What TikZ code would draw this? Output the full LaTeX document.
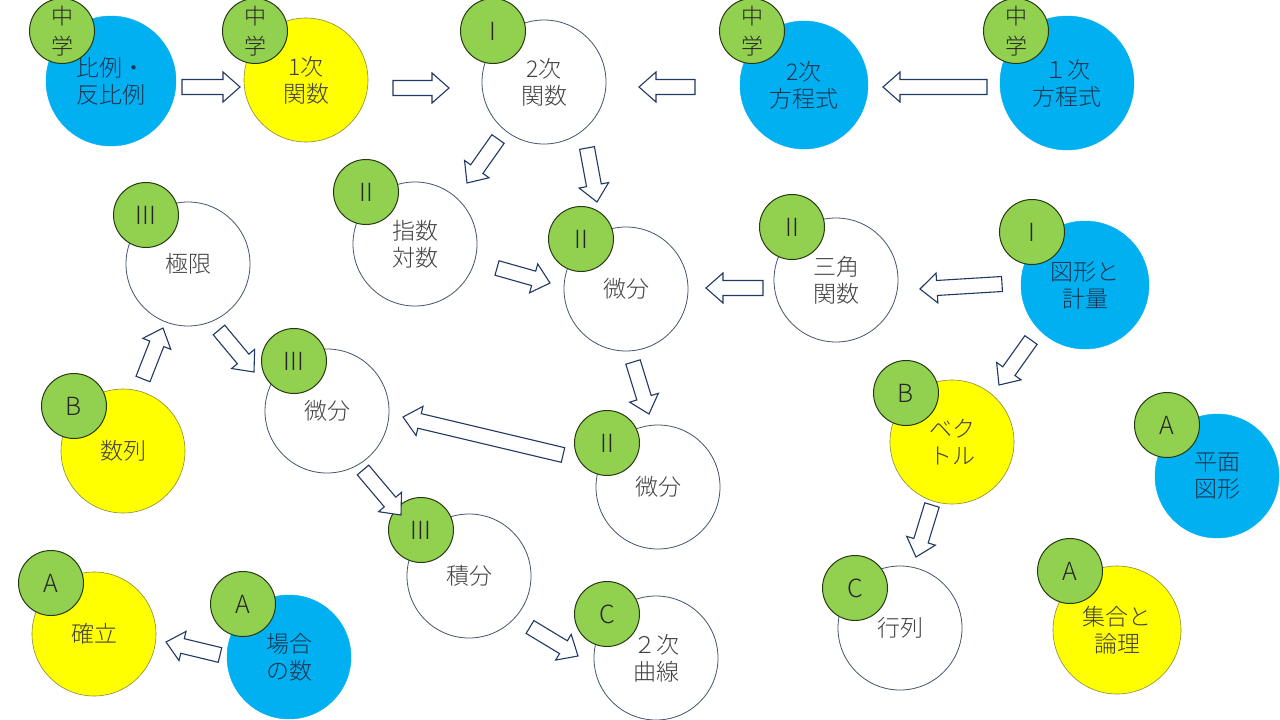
\documentclass[tikz,border=0pt]{standalone}
\usepackage{fontspec}
\setmainfont{Noto Sans CJK JP}[UprightFont=* Light]
\usetikzlibrary{calc}
\definecolor{cblue}{HTML}{00B0F0}
\definecolor{cyel}{HTML}{FFFF00}
\definecolor{cgreen}{HTML}{92D050}
\definecolor{cedge}{HTML}{44546A}
\definecolor{carrow}{HTML}{203864}
\definecolor{cgdark}{HTML}{253A12}
\definecolor{btext}{HTML}{1E3350}
\definecolor{yedge}{HTML}{8A8A40}
\tikzset{
 big/.style={circle, inner sep=0pt, minimum size=124pt, align=center, font=\fontsize{23}{27}\selectfont},
 wbig/.style={big, fill=white, draw=cedge, line width=0.8pt, text=black!75},
 bbig/.style={big, fill=cblue, draw=cblue, text=btext},
 ybig/.style={big, fill=cyel, draw=yedge, line width=0.6pt, text=black!75},
 badge/.style={circle, inner sep=0pt, minimum size=65pt, fill=cgreen, draw=cgdark, line width=1pt, align=center, font=\fontsize{22}{30}\selectfont, text=black!85},
 lbadge/.style={badge, font=\fontsize{25}{30}\selectfont},
 barrow/.style={fill=white, draw=carrow, line width=1.1pt, line join=miter},
}
\newcommand\blockarrow[2]{%
 \coordinate (bh) at ($(#2)!17pt!(#1)$);
 \draw[barrow] ($(#1)!7.5pt!90:(#2)$) -- ($(bh)!7.5pt!-90:(#1)$) -- ($(bh)!15pt!-90:(#1)$) -- (#2) -- ($(bh)!15pt!90:(#1)$) -- ($(bh)!7.5pt!90:(#1)$) -- ($(#1)!7.5pt!-90:(#2)$) -- cycle;}
\begin{document}
\begin{tikzpicture}[x=1pt,y=-1pt]
\useasboundingbox (0,0) rectangle (1280,720);
\fill[white] (0,0) rectangle (1280,720);
% big circles
\node[bbig, minimum size=130pt] (hirei) at (111,81) {比例・\\反比例};
\node[ybig] (ichiji) at (306,80) {1次\\関数};
\node[wbig] (niji) at (544,82) {2次\\関数};
\node[bbig, minimum size=128pt] (nihou) at (804,85) {2次\\方程式};
\node[bbig, minimum size=134pt] (ichihou) at (1067,83) {１次\\方程式};
\node[wbig] (shisu) at (415,244) {指数\\対数};
\node[wbig] (bibunA) at (626,289) {微分};
\node[wbig] (sankaku) at (836,280) {三角\\関数};
\node[bbig, minimum size=128pt] (zukei) at (1085,285) {図形と\\計量};
\node[wbig] (kyokugen) at (188,264) {極限};
\node[ybig] (suretsu) at (123,451) {数列};
\node[wbig] (bibunC) at (327,411) {微分};
\node[wbig] (bibunB) at (658,487) {微分};
\node[wbig] (sekibun) at (469,576) {積分};
\node[wbig] (kyokusen) at (656,658) {２次\\曲線};
\node[ybig] (vector) at (952,442) {ベク\\トル};
\node[wbig] (gyoretsu) at (900,628) {行列};
\node[bbig] (heimen) at (1217,476) {平面\\図形};
\node[ybig, minimum size=128pt] (shugo) at (1117,630) {集合と\\論理};
\node[ybig] (kakuritsu) at (94,634) {確立};
\node[bbig] (baai) at (289,657) {場合\\の数};
% badges
\node[badge] (g1) at (62,31) {中\\学};
\node[badge] (g2) at (255,31) {中\\学};
\node[lbadge] (g3) at (493,31) {I};
\node[badge] (g4) at (752,31) {中\\学};
\node[badge] (g5) at (1016,31) {中\\学};
\node[lbadge] (g6) at (366,192) {II};
\node[lbadge] (g7) at (581,239) {II};
\node[lbadge] (g8) at (792,227) {II};
\node[lbadge] (g9) at (1032,232) {I};
\node[lbadge] (g10) at (146,215) {III};
\node[lbadge] (g11) at (74,406) {B};
\node[lbadge] (g12) at (294,361) {III};
\node[lbadge] (g13) at (607,443) {II};
\node[lbadge] (g14) at (421,530) {III};
\node[lbadge] (g15) at (607,614) {C};
\node[lbadge] (g16) at (906,393) {B};
\node[lbadge] (g17) at (855,588) {C};
\node[lbadge] (g18) at (1167,425) {A};
\node[lbadge] (g19) at (1070,571) {A};
\node[lbadge] (g20) at (51,583) {A};
\node[lbadge] (g21) at (243,604) {A};
% arrow end points
\coordinate (a1s) at (182,87);  \coordinate (a1e) at (240,87);
\coordinate (a2s) at (393,88);  \coordinate (a2e) at (449,88);
\coordinate (a3s) at (695,87);  \coordinate (a3e) at (639,87);
\coordinate (a4s) at (987,87);  \coordinate (a4e) at (883,87);
\coordinate (a5s) at (498,139); \coordinate (a5e) at (467,183);
\coordinate (a6s) at (587,148); \coordinate (a6e) at (597,202);
\coordinate (a7s) at (497,268); \coordinate (a7e) at (550,283);
\coordinate (a8s) at (763,288); \coordinate (a8e) at (706,288);
\coordinate (a9s) at (1002,284); \coordinate (a9e) at (920,289);
\coordinate (a10s) at (1031,340); \coordinate (a10e) at (999,385);
\coordinate (a11s) at (143,379); \coordinate (a11e) at (163,328);
\coordinate (a12s) at (219,330); \coordinate (a12e) at (254,372);
\coordinate (a13s) at (633,362); \coordinate (a13e) at (649,414);
\coordinate (a14s) at (563,455); \coordinate (a14e) at (403,417);
\coordinate (a15s) at (363,470); \coordinate (a15e) at (401,515);
\coordinate (a16s) at (530,627); \coordinate (a16e) at (578,656);
\coordinate (a17s) at (932,505); \coordinate (a17e) at (916,557);
\coordinate (a18s) at (220,655); \coordinate (a18e) at (166,642);
\blockarrow{a1s}{a1e}
\blockarrow{a2s}{a2e}
\blockarrow{a3s}{a3e}
\blockarrow{a4s}{a4e}
\blockarrow{a5s}{a5e}
\blockarrow{a6s}{a6e}
\blockarrow{a7s}{a7e}
\blockarrow{a8s}{a8e}
\blockarrow{a9s}{a9e}
\blockarrow{a10s}{a10e}
\blockarrow{a11s}{a11e}
\blockarrow{a12s}{a12e}
\blockarrow{a13s}{a13e}
\blockarrow{a14s}{a14e}
\blockarrow{a15s}{a15e}
\blockarrow{a16s}{a16e}
\blockarrow{a17s}{a17e}
\blockarrow{a18s}{a18e}
\end{tikzpicture}
\end{document}
